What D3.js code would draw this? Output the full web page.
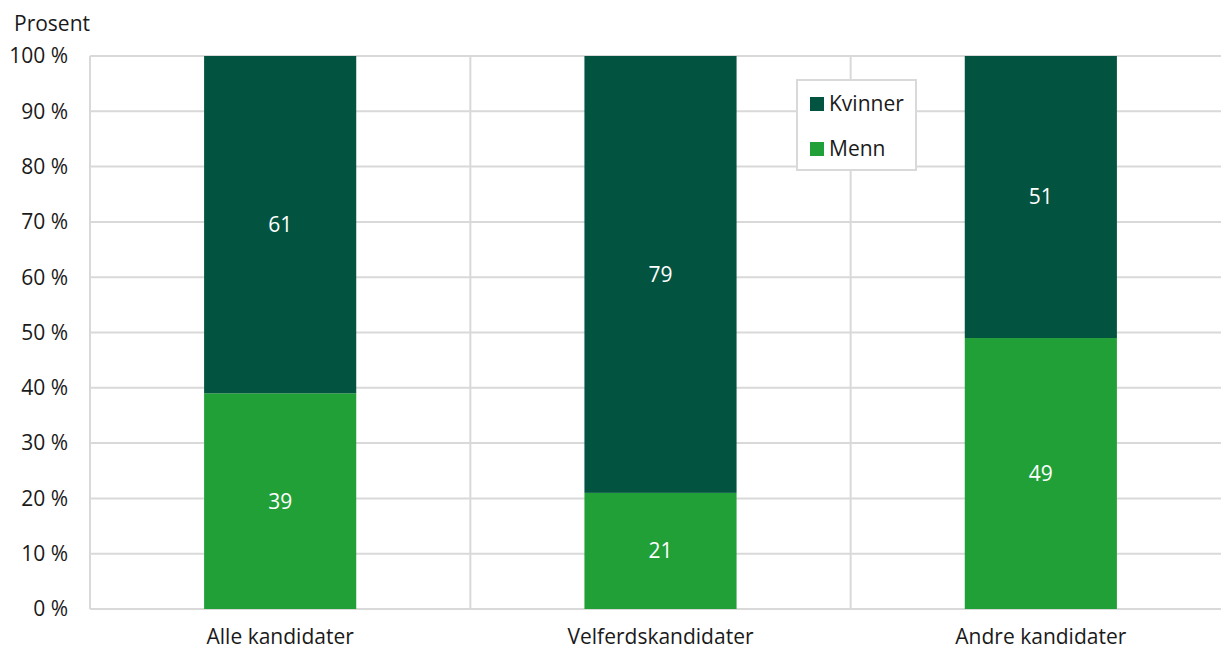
<!DOCTYPE html>
<html><head><meta charset="utf-8">
<script src="https://cdn.jsdelivr.net/npm/d3@7"></script>
<style>body{margin:0;background:#fff}svg{display:block;font-family:"Open Sans",sans-serif}</style>
</head><body><svg id="c" width="1221" height="649"></svg>
<script>
const categories = ["Alle kandidater","Velferdskandidater","Andre kandidater"];
const menn = [39,21,49];
const kvinner = [61,79,51];
const yTicks = [0,10,20,30,40,50,60,70,80,90,100];
const seriesNames = ["Kvinner","Menn"];
const colors = {Kvinner:"#02533f", Menn:"#21a038"};

const FS = 21;
const svg = d3.select("#c");
const x = d3.scaleBand().domain(categories).range([90,1231]).padding(0);
const y = d3.scaleLinear().domain([0,100]).range([609,56]);
const grid = "#d9d9d9";

svg.append("g").selectAll("line").data(yTicks).join("line")
  .attr("x1",90).attr("x2",1231).attr("y1",d=>y(d)).attr("y2",d=>y(d))
  .attr("stroke",grid).attr("stroke-width",2);
svg.append("g").selectAll("line").data(categories.map(c=>x(c)).concat([x.range()[1]])).join("line")
  .attr("x1",d=>d).attr("x2",d=>d).attr("y1",y(100)).attr("y2",y(0))
  .attr("stroke",grid).attr("stroke-width",2);

svg.append("g").selectAll("text").data(yTicks).join("text")
  .attr("x",68).attr("y",d=>y(d)).attr("dy","0.35em").attr("text-anchor","end")
  .attr("font-size",FS).attr("fill","#1a1a1a").text(d=>d+" %");
svg.append("text").attr("x",14).attr("y",31).attr("font-size",FS).attr("fill","#1a1a1a").text("Prosent");

svg.append("g").selectAll("text").data(categories).join("text")
  .attr("x",d=>x(d)+x.bandwidth()/2).attr("y",644).attr("text-anchor","middle")
  .attr("font-size",FS).attr("fill","#1a1a1a").text(d=>d);

const bw = x.bandwidth()*0.4;
const data = categories.map((c,i)=>({c, menn:menn[i], kvinner:kvinner[i]}));
const stack = d3.stack().keys(["menn","kvinner"])(data);
const keyName = {menn:"Menn", kvinner:"Kvinner"};
stack.forEach(s=>{
  const g = svg.append("g");
  g.selectAll("rect").data(s).join("rect")
    .attr("x",d=>x(d.data.c)+x.bandwidth()/2-bw/2).attr("width",bw)
    .attr("y",d=>y(d[1])).attr("height",d=>y(d[0])-y(d[1]))
    .attr("fill",colors[keyName[s.key]]);
  g.selectAll("text").data(s).join("text")
    .attr("x",d=>x(d.data.c)+x.bandwidth()/2).attr("y",d=>y((d[0]+d[1])/2)).attr("dy","0.35em")
    .attr("text-anchor","middle").attr("font-size",FS).attr("fill","#fff")
    .text(d=>d[1]-d[0]);
});

const lg = svg.append("g");
lg.append("rect").attr("x",797).attr("y",80).attr("width",119).attr("height",90)
  .attr("fill","#fff").attr("stroke",grid).attr("stroke-width",2);
seriesNames.forEach((n,i)=>{
  const yy = 103 + i*45;
  lg.append("rect").attr("x",810).attr("y",yy-6).attr("width",14).attr("height",14).attr("fill",colors[n]);
  lg.append("text").attr("x",829).attr("y",yy+1).attr("dy","0.35em").attr("font-size",FS).attr("fill","#1a1a1a").text(n);
});
</script></body></html>
